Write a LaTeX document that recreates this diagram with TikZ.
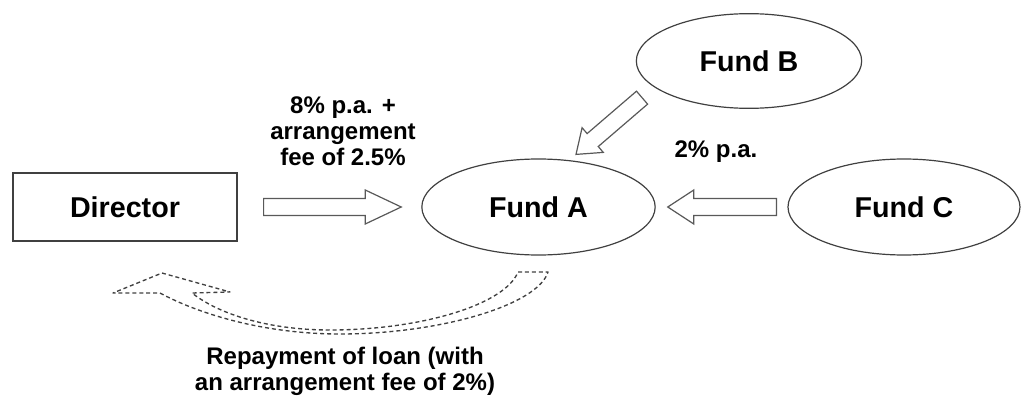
\documentclass[tikz,border=0pt]{standalone}
\usepackage{fontspec}
\setmainfont{Liberation Sans}
\usetikzlibrary{calc,shapes.geometric}

\tikzset{
  fund/.style={ellipse, draw=black!75, line width=0.9pt, inner sep=0pt,
    font=\fontsize{21.5}{24}\selectfont\bfseries},
  person/.style={rectangle, draw=black!75, line width=0.9pt, inner sep=0pt,
    minimum width=168pt, minimum height=51pt, font=\fontsize{21.5}{24}\selectfont\bfseries},
  note/.style={align=center, inner sep=0pt, font=\fontsize{18}{19.5}\selectfont\bfseries},
  hollow/.style={draw=black!65, line width=0.9pt, fill=white, line join=miter},
  back/.style={draw=black!75, line width=1pt, dash pattern=on 3pt off 2.2pt, line join=round},
}
% tail, tip, shaft half width, head half width, head length
\newcommand\blockarrow[5]{%
  \coordinate (hb) at ($(#2)!#5!(#1)$);
  \draw[hollow] ($(#1)!#3!90:(#2)$) -- ($(hb)!#3!90:(#2)$) -- ($(hb)!#4!90:(#2)$) -- (#2)
    -- ($(hb)!#4!-90:(#2)$) -- ($(hb)!#3!-90:(#2)$) -- ($(#1)!#3!-90:(#2)$) -- cycle;}

\begin{document}
\begin{tikzpicture}[x=0.75pt, y=-0.75pt]
  \useasboundingbox (0,0) rectangle (1022,403);

  \node[person] (director) at (125,207) {Director};
  \node[fund, minimum width=175pt, minimum height=72pt] (fundA) at (538.5,207) {Fund A};
  \node[fund, minimum width=169pt, minimum height=71pt] (fundB) at (749,61) {Fund B};
  \node[fund, minimum width=174pt, minimum height=72pt] (fundC) at (904,207) {Fund C};

  \node[note] (rateA) at (343,131) {8\% p.a. +\\arrangement\\fee of 2.5\%};
  \node[note] (rateC) at (716,152) {2\% p.a.};
  \node[note] (repay) at (345,371) {Repayment of loan (with\\an arrangement fee of 2\%)};

  % loans into Fund A
  \coordinate (dtail) at ($(director.east)+(26,0)$);
  \coordinate (dtip) at ($(fundA.west)+(-20,0)$);
  \blockarrow{dtail}{dtip}{6.4pt}{12.75pt}{27pt}
  \coordinate (ctail) at ($(fundC.west)+(-11,0)$);
  \coordinate (ctip) at ($(fundA.east)+(12,0)$);
  \blockarrow{ctail}{ctip}{6.4pt}{12.75pt}{19.5pt}
  \coordinate (btail) at ($(fundB.210)+(-40,-2)$);
  \coordinate (btip) at ($(fundA.north)+(37.5,-4)$);
  \blockarrow{btail}{btip}{6.4pt}{12.2pt}{16.5pt}

  % repayment back to the director
  \draw[back] (518,272) -- (548,272)
    .. controls (538,305) and (440,334) .. (340,334)
    .. controls (260,334) and (195,312) .. (160,293)
    -- (113,293) -- (162,273) -- (230,292) -- (192,293)
    .. controls (220,315) and (270,330) .. (330,330)
    .. controls (420,330) and (505,305) .. (518,272) -- cycle;
\end{tikzpicture}
\end{document}
